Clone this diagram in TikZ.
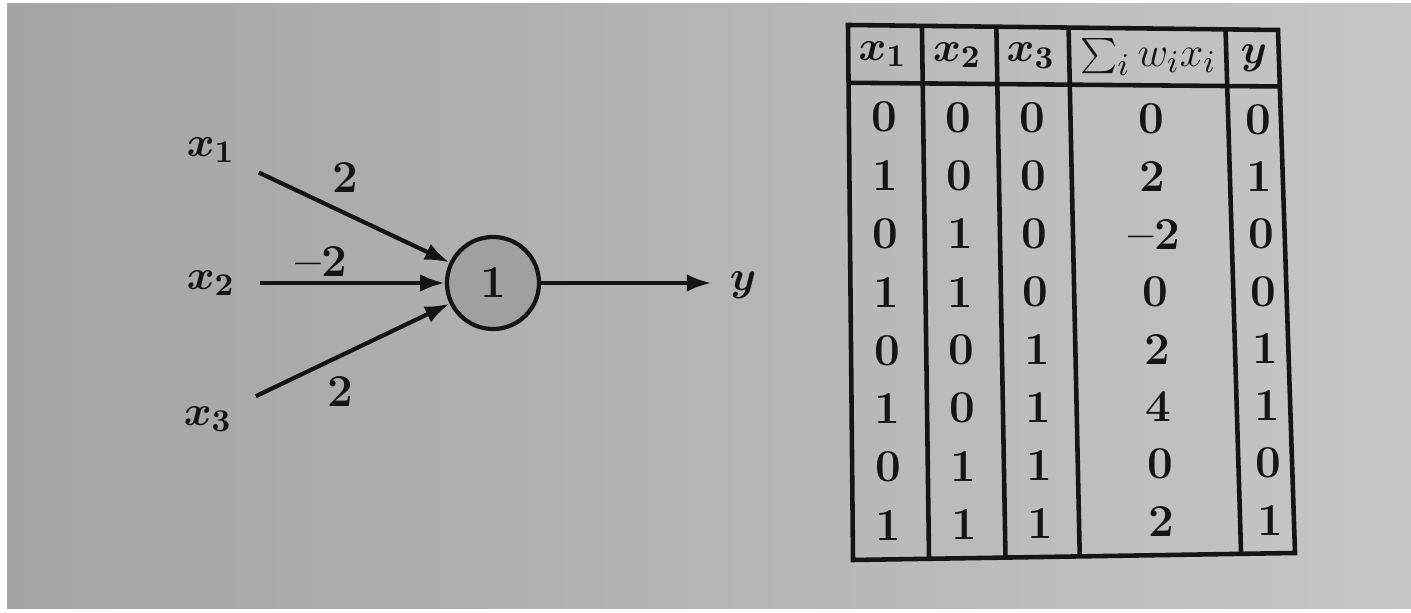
\documentclass[tikz,border=0pt]{standalone}
\usetikzlibrary{calc,arrows.meta}

\definecolor{ink}{HTML}{151515}
\definecolor{paperdark}{HTML}{A4A4A4}
\definecolor{papermid}{HTML}{B8B8B8}
\definecolor{paperlight}{HTML}{C6C6C6}
\definecolor{somagrey}{HTML}{A0A0A0}

\tikzset{
  wire/.style={draw=ink, line width=1.2pt, shorten <=5pt, -{Latex[length=7pt,width=5pt]}},
  rule/.style={draw=ink, line width=1.3pt},
  neuron/.style={circle, draw=ink, line width=1.2pt, fill=somagrey, minimum size=0.92cm, inner sep=0pt},
  lbl/.style={text=ink, inner sep=2pt, font=\fontsize{13}{15}\selectfont\boldmath},
  sumlbl/.style={lbl, font=\fontsize{13}{15}\selectfont},
  num/.style={lbl, font=\fontsize{13}{15}\selectfont\bfseries},
}

\begin{document}
\begin{tikzpicture}[x=0.01cm,y=-0.01cm]
  \useasboundingbox (0,0) rectangle (1411,613);
  % paper
  \fill[white] (0,0) rectangle (1411,613);
  \shade[left color=paperdark, middle color=papermid, right color=paperlight] (7,4) rectangle (1411,609);

  % threshold unit
  \node[lbl] (x1) at (211,150) {$x_1$};
  \node[lbl] (x2) at (211,283) {$x_2$};
  \node[lbl] (x3) at (208,419) {$x_3$};
  \node[neuron, num] (n) at (493,283) {1};
  \node[lbl] (y) at (743,285) {$y$};
  \draw[wire] (x1) -- (n);
  \draw[wire] (x2) -- (n);
  \draw[wire] (x3) -- (n);
  \draw[wire, shorten <=0pt, shorten >=3pt] (n) -- (n -| y.west);
  % weights
  \node[num] (w1) at (345,178) {2};
  \node[num] (w2) at (321,262) {--2};
  \node[num] (w3) at (340,392) {2};

  % truth table (page is slightly skewed)
  \coordinate (tl) at (848,25);
  \coordinate (tr) at (1278,30);
  \coordinate (bl) at (853,560);
  \coordinate (br) at (1295,553);
  \draw[rule] (tl) -- (tr) -- (br) -- (bl) -- cycle;
  \draw[rule] ($(tl)!0.108!(bl)$) -- ($(tr)!0.108!(br)$);
  \foreach \f in {0.172,0.345,0.513,0.878}
    \draw[rule] ($(tl)!\f!(tr)$) -- ($(bl)!\f!(br)$);

  % header
  \coordinate (hl) at ($(tl)!0.054!(bl)$);
  \coordinate (hr) at ($(tr)!0.054!(br)$);
  \foreach \u/\txt [count=\j] in {0.080/$x_1$, 0.253/$x_2$, 0.424/$x_3$, 0.942/$y$}
    \node[lbl] (h\j) at ($(hl)!\u!(hr)$) {\txt};
  \node[sumlbl] (hsum) at ($(hl)!0.697!(hr)$) {$\sum_i w_i x_i$};

  % rows
  \foreach \a/\b/\c/\s/\o [count=\i] in {0/0/0/0/0, 1/0/0/2/1, 0/1/0/--2/0, 1/1/0/0/0,
                                         0/0/1/2/1, 1/0/1/4/1, 0/1/1/0/0, 1/1/1/2/1} {
    \pgfmathsetmacro\v{0.172+(\i-1)*0.1092}
    \coordinate (l\i) at ($(tl)!\v!(bl)$);
    \coordinate (r\i) at ($(tr)!\v!(br)$);
    \node[num] (c\i-1) at ($(l\i)!0.082!(r\i)$) {\a};
    \node[num] (c\i-2) at ($(l\i)!0.253!(r\i)$) {\b};
    \node[num] (c\i-3) at ($(l\i)!0.425!(r\i)$) {\c};
    \node[num] (c\i-4) at ($(l\i)!0.700!(r\i)$) {\s};
    \node[num] (c\i-5) at ($(l\i)!0.947!(r\i)$) {\o};
  }
\end{tikzpicture}
\end{document}
